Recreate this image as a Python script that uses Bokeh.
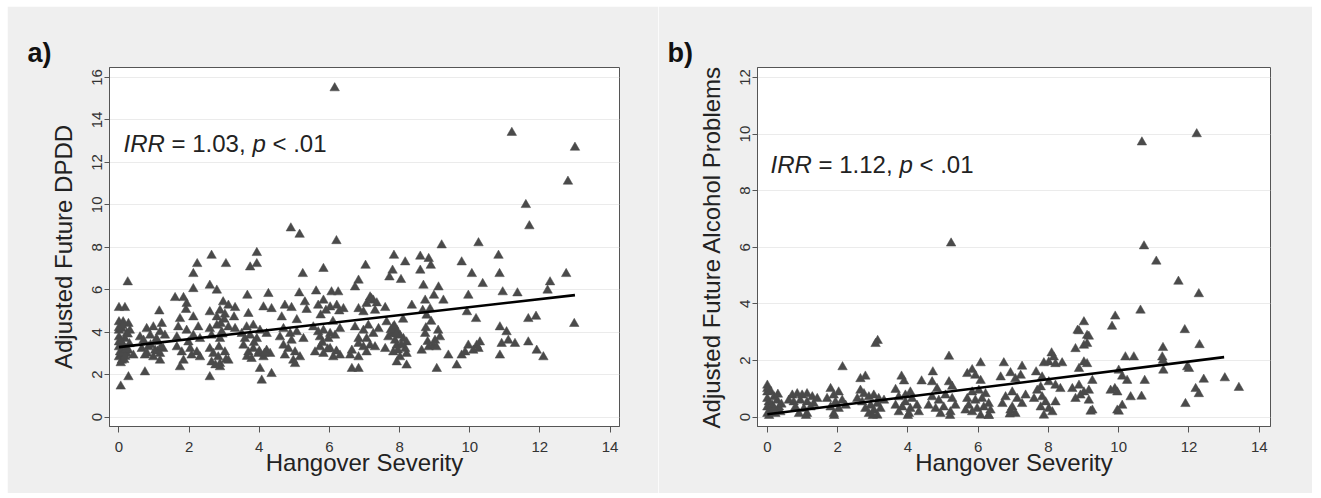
from bokeh.plotting import figure
from bokeh.layouts import row, column, Spacer
from bokeh.models import Label, FixedTicker, Range1d
from bokeh.embed import file_html
from bokeh.resources import INLINE

# ---------------- data ----------------
x_ticks = [0, 2, 4, 6, 8, 10, 12, 14]
y_ticks_a = [0, 2, 4, 6, 8, 10, 12, 14, 16]
y_ticks_b = [0, 2, 4, 6, 8, 10, 12]

x_label = "Hangover Severity"
y_label_a = "Adjusted Future DPDD"
y_label_b = "Adjusted Future Alcohol Problems"

# panel a: hangover severity vs adjusted future DPDD
hangover_a = [
    6.15, 11.2, 13.0, 12.8, 11.6, 11.7, 4.9, 5.15, 6.2, 9.2, 10.25,
    2.64, 3.93, 2.23, 3.05, 3.74, 3.93, 7.84, 8.16, 8.59, 8.83, 8.89, 9.77, 10.82, 5.83, 7.03, 7.80, 10.06, 10.85, 8.59,
    2.12, 0.25, 5.24, 6.83, 7.71, 8.04, 12.75, 2.59, 2.79, 2.12, 8.68, 9.11, 10.37, 12.29, 6.73, 3.66, 4.26, 5.14, 5.62, 6.06, 6.25, 9.96, 10.94, 11.36, 12.22, 1.60, 1.84, 7.16, 7.25, 8.73, 8.98, 9.25,
    0.0, 0.17, 1.15, 1.91, 2.97, 3.12, 3.31, 2.88, 3.02, 2.79, 2.59, 4.12, 4.35, 4.73, 4.92, 5.30, 5.35, 5.68, 5.83, 5.90, 6.02, 6.21, 6.28, 6.40, 6.83, 7.06, 7.20, 7.35, 6.97, 7.30, 7.59, 8.35, 8.66, 8.77, 8.87, 9.92, 10.18, 11.67, 11.89, 12.98, 1.74, 2.12, 1.93, 3.28, 3.69, 4.64, 5.07,
    0.0, 0.12, 0.27, 0.0, 0.08, 0.22, 0.0, 0.17, 0.0, 0.31,
    0.79, 0.98, 1.22, 0.60, 0.89, 1.17, 1.31, 0.70, 1.07,
    1.69, 1.93, 2.12, 2.26, 1.65, 1.98, 2.31,
    2.59, 2.79, 2.64, 2.93, 3.12, 3.31, 2.88,
    3.64, 3.83, 4.02, 3.74, 3.93, 3.59, 4.21, 3.50,
    4.69, 4.88, 5.07, 5.26, 4.59, 4.92,
    5.54, 5.68, 5.83, 6.02, 5.73, 5.97, 6.16, 6.30,
    6.73, 6.97, 7.11, 7.25, 7.06, 6.83, 7.40,
    7.63, 7.82, 7.92, 7.78, 8.01, 8.11, 7.87, 8.20, 7.68,
    8.73, 9.10, 9.15, 9.01,
    10.86, 11.05, 11.10, 10.91, 11.29, 11.67,
    0.0, 0.12, 0.03, 0.22, 0.0, 0.08, 0.27, 0.41,
    0.65, 0.84, 1.03, 1.17, 1.26, 0.74, 0.98, 1.17,
    1.65, 1.79, 2.03, 2.22, 2.31, 1.84, 2.07,
    2.59, 2.69, 2.83, 3.02, 3.12, 2.64, 2.88,
    3.55, 3.69, 3.83, 3.97, 4.12, 4.31, 3.78, 4.21,
    4.69, 4.83, 5.02, 5.16, 4.73, 4.97,
    5.59, 5.83, 6.02, 6.11, 6.30, 5.73,
    6.64, 6.83, 6.97, 7.16, 7.06, 7.30, 6.59, 6.83,
    7.59, 7.82, 7.92, 8.01, 8.20, 8.16, 7.92, 8.20,
    8.63, 8.83, 8.96, 9.39, 9.77, 9.87,
    9.96, 10.20, 10.29, 10.10, 10.25,
    10.86, 11.91, 12.10,
    0.74, 0.27, 0.05, 1.74, 2.59, 2.88, 4.07, 4.02, 4.35, 5.02, 6.64, 6.83, 9.06, 9.63,
    0.05, 0.15, 0.10, 0.20, 0.05, 0.25, 0.10, 0.30, 0.18, 0.00, 0.12,
    0.90, 1.10, 1.05, 0.80, 1.20,
    2.90, 3.00, 2.85, 3.05, 2.75, 2.95,
    3.85, 4.00, 3.65, 4.15,
    5.80, 5.95, 6.10, 6.20, 5.75,
    7.75, 7.90, 8.05, 7.85, 7.95, 8.10,
    8.75, 8.90, 9.05, 8.80,
]
dpdd_a = [
    15.5, 13.4, 12.7, 11.1, 10.0, 9.0, 8.9, 8.6, 8.3, 8.1, 8.2,
    7.61, 7.74, 7.22, 7.22, 7.06, 7.22, 7.61, 7.30, 7.57, 7.46, 7.14, 7.30, 7.61, 6.99, 7.14, 6.91, 6.75, 6.75, 6.91,
    6.75, 6.36, 6.75, 6.44, 6.59, 6.47, 6.75, 6.20, 5.97, 6.04, 6.20, 6.12, 6.28, 6.36, 6.12, 5.73, 5.81, 5.84, 5.93, 5.89, 5.89, 5.73, 5.89, 5.84, 5.97, 5.62, 5.62, 5.65, 5.50, 5.50, 5.73, 5.50,
    5.15, 5.15, 4.99, 5.06, 5.42, 5.26, 5.15, 5.02, 4.84, 4.71, 4.95, 5.18, 5.10, 5.26, 5.15, 5.42, 5.06, 5.26, 5.50, 5.02, 5.18, 5.26, 4.99, 5.10, 5.10, 5.34, 5.57, 5.37, 4.95, 5.02, 5.15, 5.26, 5.02, 4.79, 5.10, 4.95, 4.63, 4.63, 4.74, 4.40, 4.63, 4.71, 5.34, 4.71, 4.87, 4.71, 4.58,
    4.48, 4.48, 4.40, 4.08, 4.16, 3.93, 3.77, 3.69, 3.53, 4.08,
    4.16, 4.24, 4.40, 3.77, 3.85, 4.01, 3.85, 3.61, 3.69,
    4.24, 4.08, 3.85, 4.24, 3.77, 3.53, 3.69,
    4.16, 4.32, 3.85, 4.01, 4.24, 4.16, 3.69,
    4.24, 4.32, 4.08, 3.85, 3.69, 3.69, 3.93, 3.93,
    4.16, 3.93, 4.01, 3.69, 3.77, 3.61,
    4.24, 4.01, 4.08, 3.93, 3.77, 3.69, 3.85, 4.16,
    4.24, 4.08, 4.32, 3.93, 3.69, 3.69, 4.16,
    4.48, 4.24, 4.08, 3.93, 3.85, 3.69, 3.61, 3.53, 3.77,
    3.93, 4.08, 3.77, 3.61,
    4.24, 4.01, 3.61, 3.46, 3.46, 3.53,
    3.30, 3.38, 3.06, 2.99, 2.83, 2.67, 3.14, 2.91,
    3.22, 3.30, 3.14, 2.99, 3.22, 2.91, 2.83, 2.67,
    3.30, 3.06, 3.22, 3.06, 2.83, 2.67, 2.91,
    3.22, 2.99, 2.83, 3.06, 2.67, 2.59, 2.51,
    3.38, 3.06, 3.22, 2.99, 2.83, 2.99, 2.75, 3.14,
    3.38, 3.22, 3.06, 2.83, 2.91, 2.67,
    3.06, 2.99, 3.22, 2.83, 2.91, 3.30,
    3.14, 3.46, 3.30, 3.38, 3.06, 3.30, 2.91, 2.83,
    3.22, 3.06, 3.38, 2.83, 2.99, 3.22, 2.59, 2.44,
    3.14, 3.30, 3.38, 2.91, 2.91, 3.06,
    3.38, 3.38, 3.53, 3.14, 3.22,
    2.91, 3.14, 2.83,
    2.12, 1.89, 1.45, 2.36, 1.89, 2.36, 1.73, 2.28, 2.04, 2.51, 2.28, 2.28, 2.28, 2.44,
    2.55, 2.70, 3.00, 3.20, 3.60, 3.90, 4.30, 3.45, 2.85, 4.20, 3.35,
    3.40, 3.10, 3.55, 3.00, 3.30,
    4.40, 4.60, 3.30, 2.70, 2.45, 3.90,
    3.50, 3.10, 2.85, 3.00,
    3.50, 3.20, 4.50, 3.10, 4.80,
    4.10, 3.90, 3.40, 4.30, 3.15, 4.60,
    4.20, 4.50, 3.30, 3.55,
]

# panel b: hangover severity vs adjusted future alcohol problems
hangover_b = [
    12.22, 10.66, 5.23, 10.72, 11.07, 11.70, 12.28, 10.62, 9.90, 9.81, 11.88, 9.01, 8.83, 9.10, 3.14, 3.08, 12.30, 5.17, 2.14, 11.95,
    8.87, 9.15, 8.77, 9.01, 9.10, 2.65, 2.79, 8.09, 8.15, 10.19, 10.43, 11.26, 11.24, 11.26, 6.07, 6.73, 7.25, 7.87, 8.01, 8.20, 8.39, 9.01, 9.10, 8.87, 12.00, 11.27, 13.02, 13.42, 12.42, 12.19, 12.28, 11.90, 10.74, 10.24, 10.34, 10.65, 10.00, 10.10, 9.77, 9.89, 9.96, 10.10, 9.96, 9.25,
    3.82, 3.89, 4.71, 4.39, 4.07, 3.65, 5.17, 5.26, 4.69, 4.83, 5.69, 5.83, 5.92, 6.07, 6.64, 6.92, 7.06, 7.21, 7.65, 7.82, 8.01, 8.20, 8.34, 7.78, 8.68, 8.87, 9.01, 9.15, 8.91, 8.77, 9.15, 9.25,
    6.97, 6.78, 7.11, 7.25, 6.97, 7.35, 6.92, 6.69, 7.06,
    7.68, 7.82, 7.92, 7.78, 8.01, 8.11, 7.87, 7.59, 8.20,
    5.83, 6.02, 6.21, 5.69, 5.92, 6.11, 6.30, 5.73, 5.97, 6.16, 6.35, 5.83, 6.07, 6.30, 5.64,
    4.69, 4.88, 5.07, 5.26, 4.59, 4.79, 5.02, 5.21, 4.93, 5.35,
    3.74, 3.93, 4.12, 3.65, 3.84, 4.07, 4.26, 3.74, 4.03, 4.31, 3.93,
    2.75, 2.89, 3.03, 3.17, 2.70, 2.94, 3.13, 3.32, 2.79, 3.03, 3.22, 2.89, 3.13, 2.65, 2.56,
    1.80, 1.89, 2.03, 1.70, 1.94, 2.13, 1.80, 2.03, 2.23, 1.89,
    0.71, 0.85, 0.99, 1.13, 1.28, 0.75, 0.94, 1.13, 1.32, 0.80, 1.04, 1.23, 0.90, 1.13, 0.61, 1.42,
    0.0, 0.0, 0.0, 0.04, 0.0, 0.14, 0.28, 0.33, 0.09, 0.23, 0.0, 0.37, 0.19, 0.0, 0.10, 0.30, 0.20, 0.05, 0.40,
    1.10, 1.90, 3.00, 4.00, 5.20, 6.30, 6.90, 9.20, 10.00,
]
problems_b = [
    10.0, 9.71, 6.14, 6.04, 5.5, 4.79, 4.35, 3.77, 3.56, 3.20, 3.08, 3.36, 3.06, 2.88, 2.70, 2.59, 2.55, 2.14, 1.77, 1.77,
    3.04, 2.85, 2.41, 2.53, 2.59, 1.35, 1.44, 2.26, 2.12, 2.12, 2.12, 2.45, 2.12, 2.00, 1.91, 1.91, 1.79, 1.91, 1.94, 1.88, 1.91, 1.94, 1.88, 1.71, 1.71, 1.65, 1.38, 1.04, 1.33, 1.00, 0.82, 0.47, 1.29, 1.29, 0.71, 0.73, 1.65, 1.44, 0.94, 1.00, 0.88, 0.41, 0.24, 0.24,
    1.44, 1.27, 1.59, 1.27, 0.88, 0.97, 1.24, 1.08, 1.24, 1.00, 1.53, 1.67, 1.47, 1.29, 1.41, 1.56, 1.35, 1.47, 1.59, 1.41, 1.24, 1.12, 1.00, 1.06, 1.00, 1.12, 0.88, 0.94, 0.77, 0.65, 0.59, 1.29,
    0.88, 0.71, 0.65, 0.47, 0.35, 0.77, 0.24, 0.47, 0.12,
    0.94, 0.71, 0.53, 0.35, 0.30, 0.18, 0.06, 0.65, 0.53,
    0.88, 0.94, 0.82, 0.65, 0.59, 0.65, 0.47, 0.41, 0.30, 0.35, 0.24, 0.18, 0.06, 0.06, 0.24,
    0.71, 0.59, 0.77, 0.65, 0.41, 0.30, 0.35, 0.18, 0.12, 0.41,
    0.71, 0.77, 0.65, 0.41, 0.35, 0.30, 0.41, 0.18, 0.12, 0.18, 0.53,
    0.82, 0.71, 0.77, 0.65, 0.53, 0.41, 0.47, 0.59, 0.30, 0.24, 0.30, 0.12, 0.06, 0.94, 0.65,
    1.00, 0.77, 0.88, 0.65, 0.53, 0.59, 0.35, 0.30, 0.41, 0.12,
    0.77, 0.82, 0.77, 0.82, 0.71, 0.53, 0.59, 0.53, 0.47, 0.35, 0.30, 0.35, 0.12, 0.12, 0.59, 0.65,
    1.12, 0.88, 0.65, 0.53, 0.35, 0.41, 0.59, 0.35, 0.18, 0.12, 0.12, 0.18, 0.71, 1.00, 0.90, 0.80, 0.30, 0.05, 0.45,
    0.05, 0.05, 0.05, 0.05, 0.05, 0.05, 0.10, 0.20, 0.20,
]

# fitted lines (end points of the regression line)
fit_x = [0, 13]
fit_a = [3.30, 5.75]
fit_b = [0.10, 2.12]

# annotation pieces: (text, italic?)
stat_a = [("IRR", True), ("= 1.03,", False), ("p", True), ("< .01", False)]
stat_b = [("IRR", True), ("= 1.12,", False), ("p", True), ("< .01", False)]

assert len(hangover_a) == len(dpdd_a), (len(hangover_a), len(dpdd_a))
assert len(hangover_b) == len(problems_b), (len(hangover_b), len(problems_b))

# ---------------- style ----------------
BG = "#efefef"
MARK = "#4a4a4a"
FONT = "Liberation Sans"
H = 487
TOP, BOTTOM = 61, 67


def px_to_data(rng, npx, off):
    return rng[0] + off / npx * (rng[1] - rng[0])


def make_panel(xs, ys, fit_y, x_rng, y_rng, y_ticks, ylabel, tag, tag_offset, stat,
               stat_px, width, left, right):
    p = figure(width=width, height=H, output_backend="svg", toolbar_location=None,
               x_range=Range1d(*x_rng), y_range=Range1d(*y_rng),
               min_border_left=left, min_border_right=right,
               min_border_top=TOP, min_border_bottom=BOTTOM)
    fw = width - left - right
    fh = H - TOP - BOTTOM
    p.background_fill_color = "white"
    p.border_fill_color = BG
    p.outline_line_color = "#555555"
    p.outline_line_width = 1

    # panel tag as title
    p.title.text = tag
    p.title.align = "left"
    p.title.offset = tag_offset
    p.title.standoff = 0
    p.title.text_font = FONT
    p.title.text_font_size = "27px"
    p.title.text_font_style = "bold"
    p.title.text_color = "#111111"

    p.xgrid.visible = False
    p.ygrid.ticker = FixedTicker(ticks=y_ticks)
    p.ygrid.grid_line_color = "#ebebeb"
    p.ygrid.grid_line_width = 1

    p.xaxis.ticker = FixedTicker(ticks=x_ticks)
    p.yaxis.ticker = FixedTicker(ticks=y_ticks)
    for ax in (p.xaxis, p.yaxis):
        ax.axis_line_color = "#555555"
        ax.major_tick_line_color = "#555555"
        ax.major_tick_out = 6
        ax.major_tick_in = 0
        ax.minor_tick_line_color = None
        ax.major_label_text_font = FONT
        ax.major_label_text_font_size = "15px"
        ax.major_label_text_color = "#333333"
        ax.axis_label_text_font = FONT
        ax.axis_label_text_font_size = "24px"
        ax.axis_label_text_font_style = "normal"
        ax.axis_label_text_color = "#222222"
    p.xaxis.axis_label = x_label
    p.xaxis.major_label_standoff = 9
    p.xaxis.axis_label_standoff = -6
    p.yaxis.axis_label = ylabel
    p.yaxis.major_tick_out = 5
    p.yaxis.major_label_orientation = "vertical"
    p.yaxis.major_label_standoff = 2
    p.yaxis.axis_label_standoff = 13

    p.scatter(xs, ys, marker="triangle", size=9.5, fill_color=MARK, line_color=MARK,
              line_width=0.5)
    p.line(fit_x, fit_y, line_color="black", line_width=2.6)

    # statistic annotation (mixed italic / roman)
    sx = px_to_data(x_rng, fw, stat_px[0])
    sy = px_to_data(y_rng, fh, fh - stat_px[1])
    offs = [0, 48, 129, 149]
    for (txt, ital), dx in zip(stat, offs):
        p.add_layout(Label(x=sx, y=sy, x_offset=dx, text=txt,
                           text_font=FONT, text_font_size="24px",
                           text_font_style="italic" if ital else "normal",
                           text_color="#222222", text_baseline="alphabetic",
                           text_align="left"))
    return p


pa = make_panel(hangover_a, dpdd_a, fit_a, (-0.27, 14.27), (-0.44, 16.47), y_ticks_a,
                y_label_a, "a)", -82, stat_a, (14, 76), 651, 102, 39)
pb = make_panel(hangover_b, problems_b, fit_b, (-0.28, 14.32), (-0.33, 12.35), y_ticks_b,
                y_label_b, "b)", -90, stat_b, (13, 97), 654, 99, 42)

layout = column(Spacer(height=6), row(Spacer(width=7), pa, pb))
open("out.html", "w").write(file_html(layout, INLINE))
